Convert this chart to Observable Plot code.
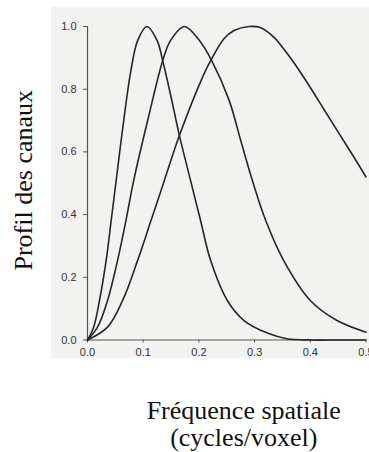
<!DOCTYPE html>
<html>
<head>
<meta charset="utf-8">
<script src="https://cdn.jsdelivr.net/npm/d3@7"></script>
<script src="https://cdn.jsdelivr.net/npm/@observablehq/plot@0.6"></script>
<style>
  html, body { margin: 0; padding: 0; background: #fff; overflow: hidden; }
  #wrap { position: relative; width: 369px; height: 452px; }
  #paper { position: absolute; left: 51px; top: 7px; width: 318px; height: 351px; background: #f2f2f1; }
  #chart { position: absolute; left: 0; top: 0; }
</style>
</head>
<body>
<div id="wrap"><div id="paper"></div><div id="chart"></div></div>
<script>
// Channel 1 (peak ~0.105)
const freq1 = [0, 0.011, 0.0215, 0.0335, 0.0425, 0.0515, 0.065, 0.078, 0.090, 0.1065, 0.125, 0.135, 0.150, 0.165, 0.185, 0.203, 0.221, 0.251, 0.281, 0.323, 0.358, 0.40, 0.45, 0.5];
const prof1 = [0, 0.041, 0.126, 0.254, 0.381, 0.509, 0.70, 0.86, 0.955, 1.0, 0.955, 0.891, 0.775, 0.652, 0.509, 0.381, 0.254, 0.126, 0.062, 0.022, 0.004, 0, 0, 0];
// Channel 2 (peak ~0.174)
const freq2 = [0, 0.018, 0.036, 0.054, 0.069, 0.083, 0.108, 0.135, 0.149, 0.174, 0.201, 0.222, 0.254, 0.275, 0.296, 0.320, 0.352, 0.400, 0.448, 0.5];
const prof2 = [0, 0.041, 0.126, 0.254, 0.381, 0.509, 0.70, 0.891, 0.955, 1.0, 0.955, 0.894, 0.766, 0.637, 0.509, 0.381, 0.254, 0.126, 0.062, 0.025];
// Channel 3 (peak ~0.29)
const freq3 = [0, 0.036, 0.063, 0.090, 0.114, 0.138, 0.165, 0.207, 0.222, 0.245, 0.263, 0.290, 0.311, 0.3345, 0.352, 0.370, 0.394, 0.424, 0.454, 0.484, 0.5];
const prof3 = [0, 0.041, 0.126, 0.254, 0.381, 0.509, 0.652, 0.84, 0.894, 0.961, 0.987, 1.0, 0.996, 0.966, 0.929, 0.886, 0.822, 0.737, 0.652, 0.567, 0.52];

const xTicks = [0, 0.1, 0.2, 0.3, 0.4, 0.5];
const yTicks = [0, 0.2, 0.4, 0.6, 0.8, 1.0];
const yTitle = "Profil des canaux";
const xTitle = "Fréquence spatiale\n(cycles/voxel)";

const series = [[freq1, prof1], [freq2, prof2], [freq3, prof3]];
const data = series.flatMap(([f, p], k) => f.map((x, i) => ({channel: k + 1, x, y: p[i]})));

const sans = "'Liberation Sans', Arial, Helvetica, sans-serif";
const serif = "'Liberation Serif', 'Times New Roman', Times, serif";

const chart = Plot.plot({
  width: 369,
  height: 452,
  marginLeft: 87,
  marginRight: 3.5,
  marginTop: 26,
  marginBottom: 112.5,
  style: {background: "transparent", overflow: "hidden"},
  x: {domain: [0, 0.5]},
  y: {domain: [0, 1]},
  marks: [
    Plot.ruleX([0], {stroke: "#555", strokeWidth: 1.2}),
    Plot.ruleY([0], {stroke: "#555", strokeWidth: 1.2}),
    Plot.axisY(yTicks, {tickSize: 4, tickPadding: 7, tickFormat: d3.format(".1f"), fontSize: 11, fontFamily: sans, fill: "#333", stroke: "#555", label: null}),
    Plot.axisX(xTicks, {tickSize: 3, tickPadding: 5, tickFormat: d3.format(".1f"), fontSize: 11, fontFamily: sans, fill: "#333", stroke: "#555", label: null}),
    Plot.line(data, {x: "x", y: "y", z: "channel", curve: "catmull-rom", stroke: "#262626", strokeWidth: 1.6}),
    Plot.text([yTitle], {frameAnchor: "left", rotate: -90, dx: -56, dy: -3, lineAnchor: "bottom", textAnchor: "middle", fontSize: 26, fontFamily: serif, fill: "#111"}),
    Plot.text([xTitle], {frameAnchor: "bottom", dx: 17, dy: 60, lineAnchor: "top", lineHeight: 1.04, textAnchor: "middle", fontSize: 26, fontFamily: serif, fill: "#111"})
  ]
});
document.getElementById("chart").append(chart);
</script>
</body>
</html>
